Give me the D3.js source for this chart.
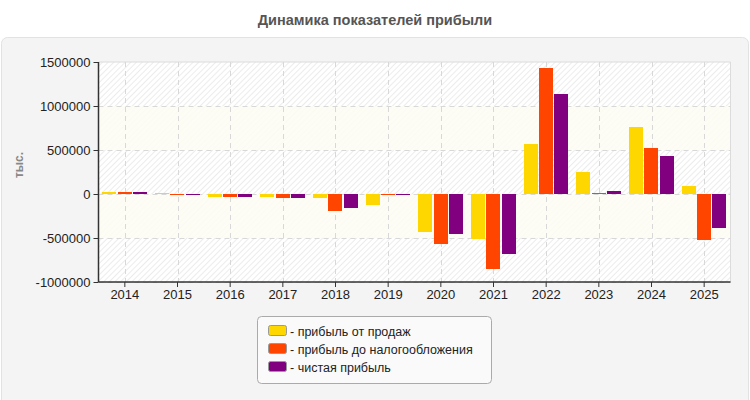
<!DOCTYPE html>
<html><head><meta charset="utf-8">
<script src="https://cdn.jsdelivr.net/npm/d3@7"></script>
<style>body{margin:0;background:#fff;}svg{display:block;font-family:"Liberation Sans",Arial,sans-serif;}</style>
</head><body><svg id="c" width="750" height="400"></svg>
<script>
const years = ["2014","2015","2016","2017","2018","2019","2020","2021","2022","2023","2024","2025"];
const seriesNames = ["прибыль от продаж","прибыль до налогообложения","чистая прибыль"];
const seriesColors = ["#ffd700","#ff4500","#800080"];
const salesProfit = [25000, 12000, -34000, -30000, -45000, -125000, -432000, -511000, 568000, 250000, 761000, 91000];
const pretaxProfit = [27000, -12000, -34000, -45000, -193000, -12000, -568000, -852000, 1432000, 15000, 523000, -523000];
const netProfit = [26000, -10000, -34000, -45000, -159000, -10000, -455000, -682000, 1136000, 35000, 432000, -386000];
const yTicks = [-1000000, -500000, 0, 500000, 1000000, 1500000];
const title = "Динамика показателей прибыли";
const yLabel = "тыс.";

const series = [salesProfit, pretaxProfit, netProfit];
const svg = d3.select("#c");
const m = {l: 98.5, r: 730.5, t: 62, b: 282};

// panel
svg.append("rect").attr("x",1.5).attr("y",37.5).attr("width",747).attr("height",380).attr("rx",6)
  .attr("fill","#f4f4f4").attr("stroke","#e2e2e2");
svg.append("text").attr("x",375).attr("y",25).attr("text-anchor","middle")
  .attr("font-size",14.5).attr("font-weight","bold").attr("fill","#555").text(title);

const defs = svg.append("defs");
const pat = defs.append("pattern").attr("id","hatch").attr("patternUnits","userSpaceOnUse")
  .attr("width",4).attr("height",4).attr("patternTransform","rotate(45)");
pat.append("rect").attr("width",4).attr("height",4).attr("fill","#fff");
pat.append("line").attr("x1",0).attr("y1",0).attr("x2",0).attr("y2",4).attr("stroke","#e8e8e8").attr("stroke-width",1.6);

const x = d3.scaleBand().domain(years).range([m.l, m.r]);
const y = d3.scaleLinear().domain([-1000000,1500000]).range([m.b, m.t]);
const xs = d3.scaleBand().domain(d3.range(3)).range([0, 45]).paddingInner(0.07);

svg.append("rect").attr("x",m.l).attr("y",m.t).attr("width",m.r-m.l).attr("height",m.b-m.t).attr("fill","url(#hatch)");
[[500000,1000000],[-500000,0]].forEach(([a,b])=>{
  svg.append("rect").attr("x",m.l).attr("y",y(b)).attr("width",m.r-m.l).attr("height",y(a)-y(b))
    .attr("fill","#fdfdf4").attr("opacity",0.85);
});
svg.append("path").attr("d",`M${m.l},${m.t}H${m.r}V${m.b}`).attr("fill","none").attr("stroke","#dcdcdc");

// grid
const g = svg.append("g");
g.selectAll(".hg").data(yTicks.slice(0,-1)).join("line")
  .attr("x1",m.l).attr("x2",m.r).attr("y1",d=>Math.round(y(d))+0.5).attr("y2",d=>Math.round(y(d))+0.5)
  .attr("stroke","#d8d8d8").attr("stroke-dasharray","5,4");
g.selectAll(".vg").data(years).join("line")
  .attr("x1",d=>Math.round(x(d)+x.bandwidth()/2)+0.5).attr("x2",d=>Math.round(x(d)+x.bandwidth()/2)+0.5)
  .attr("y1",m.t).attr("y2",m.b).attr("stroke","#d8d8d8").attr("stroke-dasharray","5,4");

// bars
series.forEach((vals,si)=>{
  svg.append("g").selectAll("rect").data(vals).join("rect")
    .attr("x",(d,i)=>Math.round(x(years[i])+x.bandwidth()/2-22.5+xs(si)))
    .attr("width",Math.round(xs.bandwidth()))
    .attr("y",d=>Math.round(d>=0?y(d):y(0)))
    .attr("height",d=>Math.max(1,Math.round(Math.abs(y(d)-y(0)))))
    .attr("fill",seriesColors[si]);
});

// axes
const ya = svg.append("g").attr("transform",`translate(${m.l},0)`)
  .call(d3.axisLeft(y).tickValues(yTicks).tickFormat(d=>String(d)).tickSize(5).tickPadding(3));
const xa = svg.append("g").attr("transform",`translate(0,${m.b})`)
  .call(d3.axisBottom(x).tickSize(5).tickPadding(3));
[ya,xa].forEach(a=>{
  a.select(".domain").attr("stroke","#333").attr("stroke-width",1.5);
  a.selectAll(".tick line").attr("stroke","#333");
  a.selectAll("text").attr("font-size",13).attr("fill","#222").attr("font-family","Liberation Sans, Arial, sans-serif");
});
ya.select(".domain").attr("d",`M0,${m.t}V${m.b}`);
xa.select(".domain").attr("d",`M${m.l},0H${m.r}`);

svg.append("text").attr("transform","translate(23,165) rotate(-90)").attr("text-anchor","middle")
  .attr("font-size",12).attr("font-weight","bold").attr("fill","#888").text(yLabel);

// legend
const lg = svg.append("g");
lg.append("rect").attr("x",257.5).attr("y",316.5).attr("width",234).attr("height",67).attr("rx",4)
  .attr("fill","#fafafa").attr("stroke","#aaa");
seriesNames.forEach((n,i)=>{
  const yy = 331 + i*18;
  lg.append("rect").attr("x",268.5).attr("y",yy-5.5).attr("width",18).attr("height",10).attr("rx",2)
    .attr("fill",seriesColors[i]).attr("stroke","#999");
  lg.append("text").attr("x",290).attr("y",yy+4.5).attr("font-size",12.5).attr("fill","#222").text("- "+n);
});
</script></body></html>
